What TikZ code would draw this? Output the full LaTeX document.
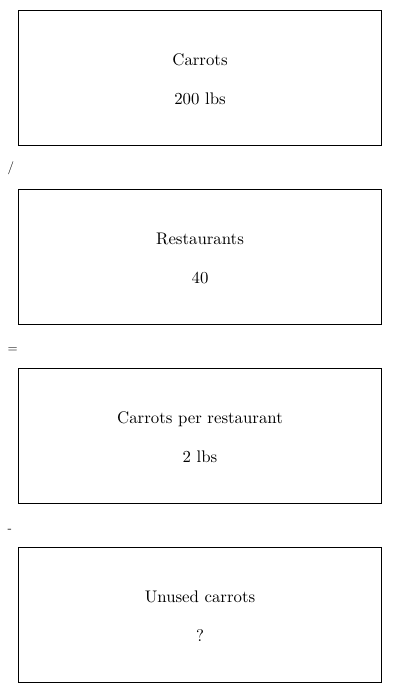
\documentclass[tikz,border=0pt]{standalone}
\usepackage{fontspec}
\setmainfont{lmroman10-regular}[Extension=.otf]
\begin{document}
\begin{tikzpicture}[x=1pt,y=-1pt,
  qbox/.style={draw=black, line width=1.1pt, minimum width=363pt, minimum height=135pt, inner sep=0pt, outer sep=0pt, anchor=north west},
  qtext/.style={font=\fontsize{16.8}{20}\selectfont, inner sep=0pt, anchor=base},
  optext/.style={font=\fontsize{13}{16}\selectfont, inner sep=0pt, anchor=base west}]
\useasboundingbox (0,0) rectangle (400,693);
% boxes
\node[qbox] (b1) at (18.3,10.3) {};
\node[qbox] (b2) at (18.3,189.3) {};
\node[qbox] (b3) at (18.3,368.3) {};
\node[qbox] (b4) at (18.3,547.3) {};
% texts
\node[qtext] (t1a) at (200,65.5) {Carrots};
\node[qtext] (t1b) at (200,104.5) {200 lbs};
\node[qtext] (t2a) at (200,244.5) {Restaurants};
\node[qtext] (t2b) at (200,283.5) {40};
\node[qtext] (t3a) at (200,423.5) {Carrots per restaurant};
\node[qtext] (t3b) at (200,462.5) {2 lbs};
\node[qtext] (t4a) at (200,602.5) {Unused carrots};
\node[qtext] (t4b) at (200,641.5) {?};
% operators
\node[optext] (o1) at (7.5,171) {/};
\node[optext] (o2) at (7.3,352.5) {=};
\node[optext] (o3) at (7.5,532) {-};
\end{tikzpicture}
\end{document}
